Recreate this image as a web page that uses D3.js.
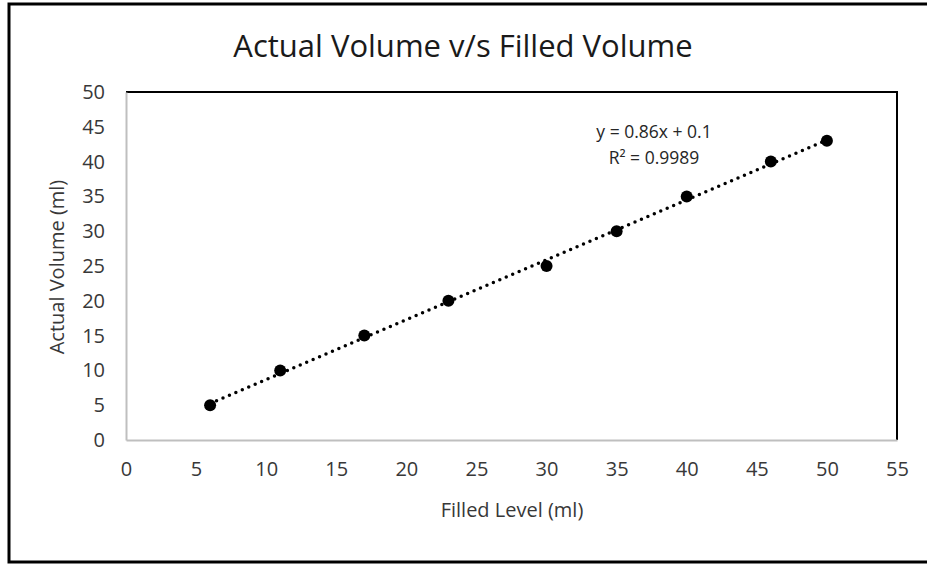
<!DOCTYPE html>
<html>
<head>
<meta charset="utf-8">
<script src="https://cdn.jsdelivr.net/npm/d3@7"></script>
<style>
  body { margin: 0; background: #fff; }
  text { font-family: "Open Sans", "Noto Sans", sans-serif; }
</style>
</head>
<body>
<script>
// values
var filledLevel  = [6, 11, 17, 23, 30, 35, 40, 46, 50];
var actualVolume = [5, 10, 15, 20, 25, 30, 35, 40, 43];
var xTicks = [0, 5, 10, 15, 20, 25, 30, 35, 40, 45, 50, 55];
var yTicks = [0, 5, 10, 15, 20, 25, 30, 35, 40, 45, 50];
var slope = 0.86, intercept = 0.1;
var eqLines = ["y = 0.86x + 0.1", "R\u00B2 = 0.9989"];

var width = 927, height = 564;
var plot = {left: 126, right: 897, top: 92, bottom: 440};

var svg = d3.select("body").append("svg")
    .attr("width", width)
    .attr("height", height);

// outer frame
svg.append("rect")
    .attr("x", 9).attr("y", 4)
    .attr("width", 930).attr("height", 558)
    .attr("fill", "#fff")
    .attr("stroke", "#000")
    .attr("stroke-width", 3);

var xscale = d3.scaleLinear().domain([0, 55]).range([plot.left, plot.right]);
var yscale = d3.scaleLinear().domain([0, 50]).range([plot.bottom, plot.top]);

// top and right border of plot area
svg.append("path")
    .attr("d", `M${plot.left},${plot.top}H${plot.right}V${plot.bottom}`)
    .attr("fill", "none")
    .attr("stroke", "#000")
    .attr("stroke-width", 2);

// x-axis
svg.append("g")
    .attr("transform", `translate(0,${plot.bottom})`)
    .call(d3.axisBottom(xscale).tickValues(xTicks).tickSize(0).tickPadding(22))
    .call(g => g.select(".domain").attr("stroke", "#bfbfbf").attr("stroke-width", 2))
    .call(g => g.selectAll("text").attr("font-size", 20).attr("fill", "#383838")
        .attr("font-family", "Open Sans, sans-serif"));

// y-axis
svg.append("g")
    .attr("transform", `translate(${plot.left},0)`)
    .call(d3.axisLeft(yscale).tickValues(yTicks).tickSize(0).tickPadding(21))
    .call(g => g.select(".domain").attr("stroke", "#bfbfbf").attr("stroke-width", 2))
    .call(g => g.selectAll("text").attr("font-size", 20).attr("fill", "#383838")
        .attr("font-family", "Open Sans, sans-serif"));

// trendline
var x0 = d3.min(filledLevel), x1 = d3.max(filledLevel);
svg.append("line")
    .attr("x1", xscale(x0)).attr("y1", yscale(slope * x0 + intercept))
    .attr("x2", xscale(x1)).attr("y2", yscale(slope * x1 + intercept))
    .attr("stroke", "#000")
    .attr("stroke-width", 3.5)
    .attr("stroke-linecap", "round")
    .attr("stroke-dasharray", "0,7");

// points
svg.selectAll("circle.pt")
    .data(filledLevel)
    .join("circle")
    .attr("class", "pt")
    .attr("cx", d => xscale(d))
    .attr("cy", (d, i) => yscale(actualVolume[i]))
    .attr("r", 6)
    .attr("fill", "#000");

// equation
svg.selectAll("text.eq")
    .data(eqLines)
    .join("text")
    .attr("class", "eq")
    .attr("x", 654)
    .attr("y", (d, i) => 138 + i * 26)
    .attr("text-anchor", "middle")
    .attr("font-size", 17.5)
    .attr("fill", "#262626")
    .text(d => d);

// title
svg.append("text")
    .attr("x", 463).attr("y", 57)
    .attr("text-anchor", "middle")
    .attr("font-size", 31)
    .attr("fill", "#1a1a1a")
    .text("Actual Volume v/s Filled Volume");

// axis titles
svg.append("text")
    .attr("x", 512).attr("y", 517)
    .attr("text-anchor", "middle")
    .attr("font-size", 20)
    .attr("fill", "#383838")
    .text("Filled Level (ml)");

svg.append("text")
    .attr("transform", "translate(64,267) rotate(-90)")
    .attr("text-anchor", "middle")
    .attr("font-size", 20)
    .attr("fill", "#383838")
    .text("Actual Volume (ml)");
</script>
</body>
</html>
